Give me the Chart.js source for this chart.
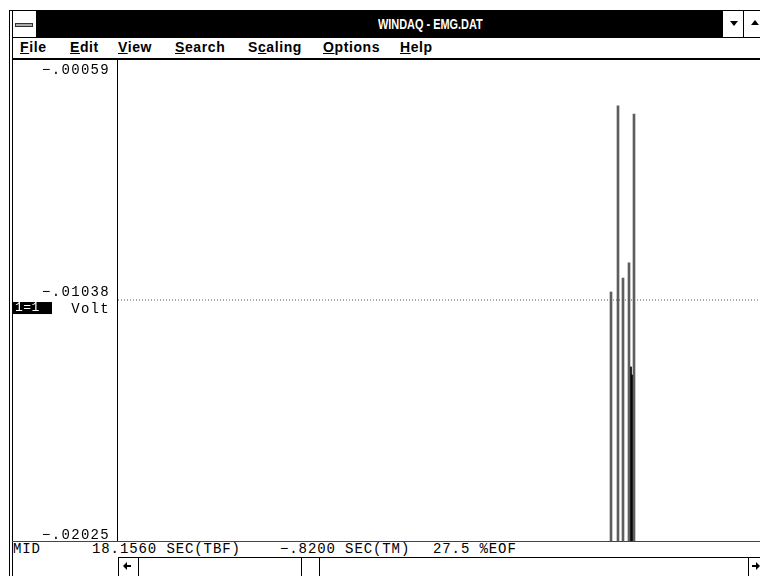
<!DOCTYPE html>
<html>
<head>
<meta charset="utf-8">
<script src="https://cdn.jsdelivr.net/npm/chart.js@4.4.1/dist/chart.umd.min.js"></script>
<style>
  body { margin:0; width:760px; height:576px; overflow:hidden; background:#fff; position:relative;
         font-family:"Liberation Sans", Arial, sans-serif; color:#000; }
  .ln { position:absolute; background:#000; }
  .box { position:absolute; background:#fff; border:1px solid #000; box-sizing:border-box; }
  #titlebar { position:absolute; left:36px; top:11px; width:686px; height:26px; background:#000; }
  #titletext { position:absolute; left:378px; top:15px; color:#fff; font-size:14px; font-weight:bold; white-space:nowrap;
               transform:scaleX(0.78); transform-origin:left top; line-height:18px; }
  .menu { position:absolute; top:38px; font-size:14px; font-weight:bold; letter-spacing:0.6px; line-height:18px; }
  .mono { position:absolute; font-family:"Liberation Mono", "Courier New", monospace; font-size:14px;
          letter-spacing:0.9px; line-height:16px; white-space:pre; top:541px; }
  #plot { position:absolute; left:12px; top:60px; width:748px; height:481px; }
  .tri { position:absolute; width:0; height:0; }
</style>
</head>
<body>
<!-- window chrome -->
<div class="ln" style="left:9px;top:10px;width:751px;height:1px"></div>
<div class="ln" style="left:9px;top:10px;width:1px;height:566px"></div>
<div class="ln" style="left:12px;top:10px;width:1px;height:566px"></div>
<div class="box" style="left:12px;top:10px;width:25px;height:28px"></div>
<div style="position:absolute;left:15px;top:23px;width:18px;height:4px;background:#aaa;border:1px solid #333;box-sizing:border-box"></div>
<div id="titlebar"></div>
<div id="titletext">WINDAQ - EMG.DAT</div>
<div class="box" style="left:722px;top:10px;width:22px;height:28px"></div>
<div class="box" style="left:743px;top:10px;width:22px;height:28px"></div>
<div class="tri" style="left:730px;top:21px;border-left:4px solid transparent;border-right:4px solid transparent;border-top:5px solid #000"></div>
<div class="tri" style="left:751px;top:20px;border-left:4px solid transparent;border-right:4px solid transparent;border-bottom:5px solid #000"></div>
<div class="ln" style="left:12px;top:37px;width:748px;height:1px"></div>

<div class="menu" style="left:20px"><u>F</u>ile</div>
<div class="menu" style="left:70px"><u>E</u>dit</div>
<div class="menu" style="left:118px"><u>V</u>iew</div>
<div class="menu" style="left:175px"><u>S</u>earch</div>
<div class="menu" style="left:248px">S<u>c</u>aling</div>
<div class="menu" style="left:323px"><u>O</u>ptions</div>
<div class="menu" style="left:400px"><u>H</u>elp</div>
<div class="ln" style="left:12px;top:58px;width:748px;height:2px"></div>

<canvas id="plot" width="748" height="481"></canvas>

<div class="ln" style="left:117px;top:60px;width:1px;height:481px"></div>
<div class="ln" style="left:12px;top:541px;width:748px;height:1px;background:#444"></div>

<!-- status line -->
<div class="mono" style="left:13px">MID</div>
<div class="mono" style="left:92px">18.1560 SEC(TBF)</div>
<div class="mono" style="left:280px">−.8200 SEC(TM)</div>
<div class="mono" style="left:433px">27.5 %EOF</div>

<!-- scroll bar -->
<div class="ln" style="left:118px;top:557px;width:642px;height:1px"></div>
<div class="ln" style="left:118px;top:557px;width:1px;height:19px"></div>
<div class="ln" style="left:138px;top:557px;width:1px;height:19px"></div>
<div class="ln" style="left:301px;top:557px;width:1px;height:19px"></div>
<div class="ln" style="left:319px;top:557px;width:1px;height:19px"></div>
<div class="ln" style="left:748px;top:557px;width:1px;height:19px"></div>
<div class="tri" style="left:123px;top:562px;border-top:4px solid transparent;border-bottom:4px solid transparent;border-right:4px solid #000"></div>
<div class="ln" style="left:127px;top:565px;width:4px;height:2px"></div>
<div class="ln" style="left:752px;top:565px;width:4px;height:2px"></div>
<div class="tri" style="left:756px;top:562px;border-top:4px solid transparent;border-bottom:4px solid transparent;border-left:4px solid #000"></div>

<script>
// samples shown in the window, one per screen column
const windowSamples = 642
// EMG bursts: sample index and peak value (Volt)
const spikeSamples = [493, 500, 505, 511, 516]
const spikeVolts = [-0.01005, -0.00243, -0.00948, -0.00886, -0.00276]
// neighbouring samples that fill in the lower part of the last two bursts
const fillSamples = [512, 515]
const fillVolts = [-0.01312, -0.01345]
// scale labels: bottom, middle, top
const tickVolts = [-0.02025, -0.01038, -0.00059]

const floor = tickVolts[0]
const mid = tickVolts[1]

function fmtVolt(v) {
  return (v < 0 ? '\u2212' : '') + Math.abs(v).toFixed(5).slice(1)
}

const scaleText = {
  id: 'scaleText',
  afterDraw(chart) {
    const { ctx, chartArea, scales: { y } } = chart
    const right = chartArea.left - 8
    const shift = [-6, -8, 9]
    ctx.save()
    ctx.font = '14px "Liberation Mono", monospace'
    ctx.letterSpacing = '1.3px'
    ctx.fillStyle = '#000'
    ctx.textAlign = 'right'
    ctx.textBaseline = 'middle'
    tickVolts.forEach((v, i) => {
      ctx.fillText(fmtVolt(v), right, y.getPixelForValue(v) + shift[i])
    })
    const yMid = y.getPixelForValue(mid)
    ctx.fillText('Volt', right, yMid + 9)
    // channel tag
    ctx.fillStyle = '#000'
    ctx.fillRect(1, yMid + 2, 39, 12)
    ctx.fillStyle = '#fff'
    ctx.textAlign = 'left'
    ctx.font = '13px "Liberation Mono", monospace'
    ctx.letterSpacing = '0.5px'
    ctx.fillText('1=1', 3, yMid + 8)
    ctx.restore()
  }
}

new Chart(document.getElementById('plot'), {
  type: 'bar',
  data: {
    datasets: [
      {
        label: 'mid',
        type: 'line',
        data: [{ x: 0, y: mid }, { x: windowSamples, y: mid }],
        borderColor: '#555',
        borderWidth: 1,
        borderDash: [1, 2],
        pointRadius: 0
      },
      {
        label: 'EMG',
        data: spikeSamples.map((s, i) => ({ x: s, y: [floor, spikeVolts[i]] })),
        backgroundColor: '#5e5e5e',
        barThickness: 2,
        borderWidth: 0,
        grouped: false
      },
      {
        label: 'EMG fill',
        data: fillSamples.map((s, i) => ({ x: s, y: [floor, fillVolts[i]] })),
        backgroundColor: '#000',
        barThickness: 3,
        borderWidth: 0,
        grouped: false
      }
    ]
  },
  options: {
    responsive: false,
    devicePixelRatio: 1,
    animation: false,
    events: [],
    layout: { padding: { top: 1, left: 0, right: 0, bottom: 0 } },
    plugins: { legend: { display: false }, tooltip: { enabled: false } },
    scales: {
      x: { type: 'linear', min: 0, max: windowSamples, offset: false, display: false },
      y: {
        min: tickVolts[0],
        max: tickVolts[2],
        ticks: { display: false },
        grid: { display: false },
        border: { display: false },
        afterFit(s) { s.width = 106 }
      }
    }
  },
  plugins: [scaleText]
})
</script>
</body>
</html>
